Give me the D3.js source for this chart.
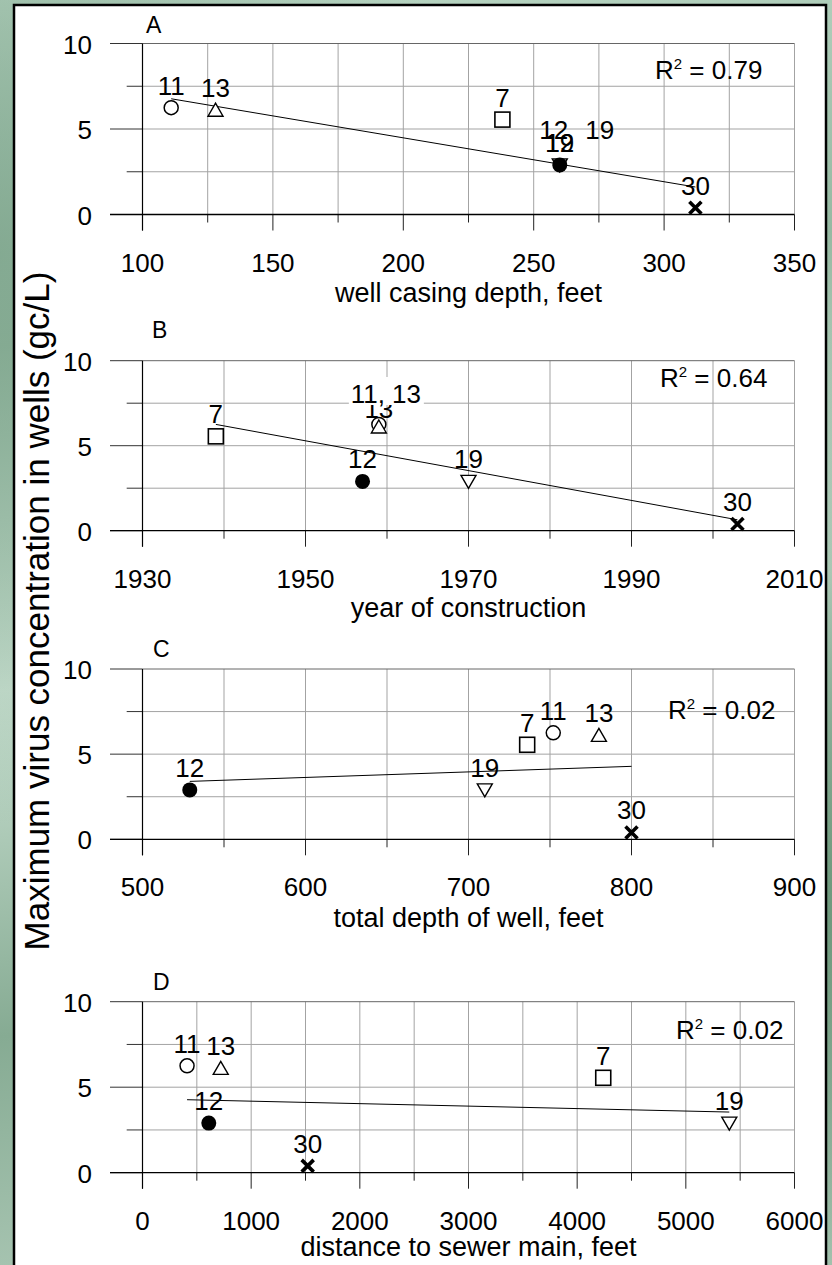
<!DOCTYPE html>
<html>
<head>
<meta charset="utf-8">
<script src="https://cdn.jsdelivr.net/npm/d3@7"></script>
<style>
  html, body { margin: 0; padding: 0; width: 832px; height: 1265px; overflow: hidden; }
  body {
    background:
      radial-gradient(ellipse at 0% 20%, rgba(120,160,135,0.7), rgba(120,160,135,0) 40%),
      radial-gradient(ellipse at 100% 70%, rgba(100,145,115,0.7), rgba(100,145,115,0) 45%),
      linear-gradient(172deg, #bcd8c6 0%, #96b9a2 25%, #c9e0d1 50%, #86ab93 75%, #b5cfbe 100%);
  }
  svg { display: block; }
  text { font-family: "Liberation Sans", Arial, Helvetica, sans-serif; fill: #000; }
</style>
</head>
<body>
<svg id="chart" width="832" height="1265"></svg>
<script>
// ---------------- data ----------------
const wells        = ["7", "11", "13", "19", "12", "30"];
const virusMax     = [5.55, 6.25, 6.1, 2.9, 2.9, 0.4];        // gc/L
const casingDepth  = [238, 111, 128, 260, 260, 312];          // feet
const yearBuilt    = [1939, 1959, 1959, 1970, 1957, 2003];
const totalDepth   = [736, 752, 780, 710, 529, 800];          // feet
const sewerDist    = [4240, 410, 720, 5400, 610, 1520];       // feet

const yTicks   = [0, 5, 10];
const yMinor   = [2.5, 7.5];
const xTicksA  = [100, 150, 200, 250, 300, 350];
const xTicksB  = [1930, 1950, 1970, 1990, 2010];
const xTicksC  = [500, 600, 700, 800, 900];
const xTicksD  = [0, 1000, 2000, 3000, 4000, 5000, 6000];
const r2Labels = ["0.79", "0.64", "0.02", "0.02"];
const panelLetters = ["A", "B", "C", "D"];
const xTitles  = ["well casing depth, feet", "year of construction",
                  "total depth of well, feet", "distance to sewer main, feet"];
const yTitle   = "Maximum virus concentration in wells (gc/L)";

// ---------------- layout / style ----------------
const X0 = 142.5, X1 = 794.5;
const panels = [
  {xs: casingDepth, ticks: xTicksA, step: 25,  top: 43.5,  zero: 214.5,  letter: [146, 33],  r2: [655, 79],   titleY: 302},
  {xs: yearBuilt,   ticks: xTicksB, step: 10,  top: 360.7, zero: 530.7,  letter: [152, 338], r2: [660, 387],  titleY: 617},
  {xs: totalDepth,  ticks: xTicksC, step: 50,  top: 669,   zero: 839.3,  letter: [153, 657], r2: [668, 719],  titleY: 927},
  {xs: sewerDist,   ticks: xTicksD, step: 500, top: 1001.7,zero: 1172.7, letter: [153, 990], r2: [676, 1039], titleY: 1256}
];
const shapes = {"7": "square", "11": "circle", "12": "dot", "13": "tri", "19": "triDown", "30": "cross"};
// label tweaks (pixel offsets relative to the marker)
const hiddenLabels = [{panel: 1, well: "11"}];
const labelDy = {"1-13": -9};
const extraLabels = [
  {panel: 0, well: "12", text: "12", dx: -6, dy: -26},
  {panel: 0, well: "12", text: "19", dx: 40, dy: -26},
  {panel: 1, well: "13", text: "11, 13", dx: 7, dy: -24, box: true}
];

const svg = d3.select("#chart");

// white sheet
svg.append("rect").attr("x", 14).attr("y", 5).attr("width", 812).attr("height", 1275)
  .attr("fill", "#fff").attr("stroke", "#000").attr("stroke-width", 2.5);

// y title
svg.append("text")
  .attr("transform", "translate(49,611) rotate(-90)")
  .attr("text-anchor", "middle").attr("font-size", 35)
  .text(yTitle);

function regression(xs, ys) {
  const mx = d3.mean(xs), my = d3.mean(ys);
  let sxy = 0, sxx = 0;
  xs.forEach((x, i) => { sxy += (x - mx) * (ys[i] - my); sxx += (x - mx) * (x - mx); });
  const b = sxy / sxx;
  return {b, a: my - b * mx};
}

panels.forEach((p, pi) => {
  const dom = [p.ticks[0], p.ticks[p.ticks.length - 1]];
  const x = d3.scaleLinear().domain(dom).range([X0, X1]);
  const y = d3.scaleLinear().domain([0, 10]).range([p.zero, p.top]);
  const g = svg.append("g");

  const grid = d3.range(dom[0], dom[1] + p.step / 2, p.step);
  // vertical grid lines
  g.selectAll(".vg").data(grid).enter().append("line")
    .attr("x1", d => x(d)).attr("x2", d => x(d))
    .attr("y1", y(10)).attr("y2", y(0))
    .attr("stroke", "#a3a3a3").attr("stroke-width", 1);
  // horizontal grid lines
  g.selectAll(".hg").data([2.5, 5, 7.5, 10]).enter().append("line")
    .attr("x1", X0).attr("x2", X1)
    .attr("y1", d => y(d)).attr("y2", d => y(d))
    .attr("stroke", d => d === 10 ? "#666" : "#a3a3a3").attr("stroke-width", 1);
  // left ticks
  g.selectAll(".lt").data(yTicks.concat(yMinor)).enter().append("line")
    .attr("x1", d => yMinor.includes(d) ? 126.7 : 110).attr("x2", X0)
    .attr("y1", d => y(d)).attr("y2", d => y(d))
    .attr("stroke", "#333").attr("stroke-width", 1);
  // bottom ticks
  g.selectAll(".bt").data(grid).enter().append("line")
    .attr("x1", d => x(d)).attr("x2", d => x(d))
    .attr("y1", y(0)).attr("y2", d => y(0) + (p.ticks.includes(d) ? 16 : 8))
    .attr("stroke", "#222").attr("stroke-width", 1);
  // zero line and vertical axis
  g.append("line").attr("x1", 110).attr("x2", X1).attr("y1", y(0)).attr("y2", y(0))
    .attr("stroke", "#000").attr("stroke-width", 1.3);
  g.append("line").attr("x1", X0).attr("x2", X0).attr("y1", y(10)).attr("y2", y(0) + 16)
    .attr("stroke", "#000").attr("stroke-width", 1.2);

  // y tick labels
  g.selectAll(".yl").data(yTicks).enter().append("text")
    .attr("x", 92).attr("y", d => y(d) + 10)
    .attr("text-anchor", "end").attr("font-size", 26)
    .text(d => d);
  // x tick labels
  g.selectAll(".xl").data(p.ticks).enter().append("text")
    .attr("x", d => x(d)).attr("y", y(0) + 57)
    .attr("text-anchor", "middle").attr("font-size", 26)
    .text(d => d);
  // x title
  g.append("text").attr("x", (X0 + X1) / 2).attr("y", p.titleY)
    .attr("text-anchor", "middle").attr("font-size", 27)
    .text(xTitles[pi]);
  // panel letter
  g.append("text").attr("x", p.letter[0]).attr("y", p.letter[1])
    .attr("font-size", 23).text(panelLetters[pi]);
  // R² label
  const r2 = g.append("text").attr("x", p.r2[0]).attr("y", p.r2[1]).attr("font-size", 26);
  r2.append("tspan").text("R");
  r2.append("tspan").attr("font-size", 15).attr("dy", -10).text("2");
  r2.append("tspan").attr("dy", 10).text(" = " + r2Labels[pi]);

  // trend line
  const reg = regression(p.xs, virusMax);
  const xmin = d3.min(p.xs), xmax = d3.max(p.xs);
  g.append("line")
    .attr("x1", x(xmin)).attr("y1", y(reg.a + reg.b * xmin))
    .attr("x2", x(xmax)).attr("y2", y(reg.a + reg.b * xmax))
    .attr("stroke", "#000").attr("stroke-width", 1);

  // markers
  const pts = wells.map((w, i) => ({w, xv: p.xs[i], yv: virusMax[i]}));
  pts.forEach(d => {
    const cx = x(d.xv), cy = y(d.yv);
    const s = shapes[d.w];
    if (s === "circle") {
      g.append("circle").attr("cx", cx).attr("cy", cy).attr("r", 7)
        .attr("fill", "#fff").attr("stroke", "#000").attr("stroke-width", 1.5);
    } else if (s === "dot") {
      g.append("circle").attr("cx", cx).attr("cy", cy).attr("r", 7.5).attr("fill", "#000");
    } else if (s === "square") {
      g.append("rect").attr("x", cx - 7.5).attr("y", cy - 7.5).attr("width", 15).attr("height", 15)
        .attr("fill", "#fff").attr("stroke", "#000").attr("stroke-width", 1.6);
    } else if (s === "tri") {
      g.append("path").attr("d", `M${cx},${cy - 7} L${cx + 7.5},${cy + 6} L${cx - 7.5},${cy + 6} Z`)
        .attr("fill", "#fff").attr("stroke", "#000").attr("stroke-width", 1.4);
    } else if (s === "triDown") {
      g.append("path").attr("d", `M${cx - 7.5},${cy - 6} L${cx + 7.5},${cy - 6} L${cx},${cy + 7} Z`)
        .attr("fill", "#fff").attr("stroke", "#000").attr("stroke-width", 1.4);
    } else if (s === "cross") {
      g.append("path").attr("d", `M${cx - 6},${cy - 6} L${cx + 6},${cy + 6} M${cx + 6},${cy - 6} L${cx - 6},${cy + 6}`)
        .attr("stroke", "#000").attr("stroke-width", 3.6).attr("fill", "none");
    }
  });

  // point labels
  pts.forEach(d => {
    if (hiddenLabels.some(h => h.panel === pi && h.well === d.w)) return;
    const dy = labelDy[pi + "-" + d.w] !== undefined ? labelDy[pi + "-" + d.w] : -13;
    g.append("text").attr("x", x(d.xv)).attr("y", y(d.yv) + dy)
      .attr("text-anchor", "middle").attr("font-size", 26).text(d.w);
  });
  extraLabels.filter(e => e.panel === pi).forEach(e => {
    const i = wells.indexOf(e.well);
    const lx = x(p.xs[i]) + e.dx, ly = y(virusMax[i]) + e.dy;
    if (e.box) {
      g.append("rect").attr("x", lx - 37).attr("y", ly - 26).attr("width", 75).attr("height", 28)
        .attr("fill", "#fff");
    }
    g.append("text").attr("x", lx).attr("y", ly)
      .attr("text-anchor", "middle").attr("font-size", 26).text(e.text);
  });
});
</script>
</body>
</html>
